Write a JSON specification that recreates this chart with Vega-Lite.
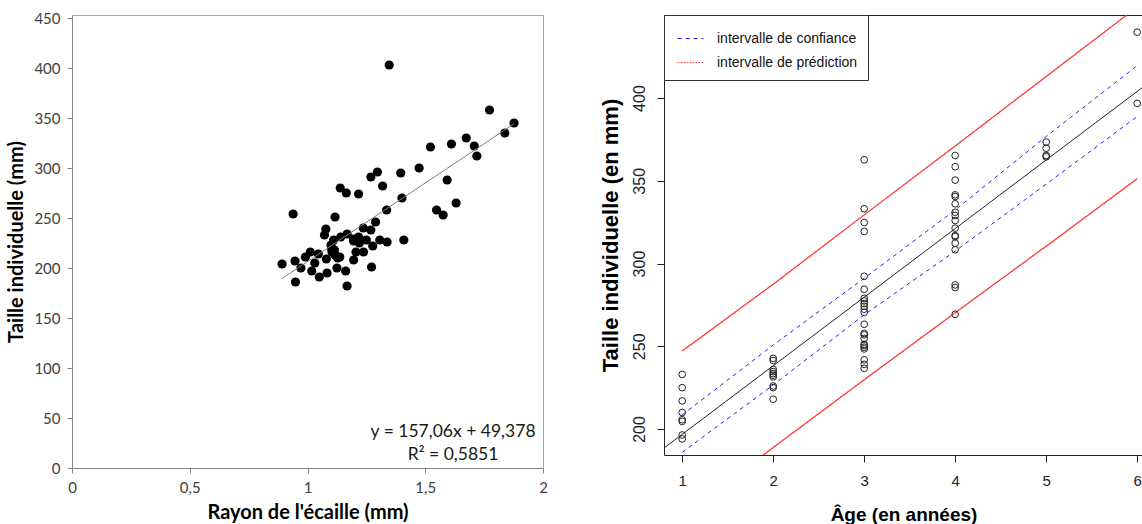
{
  "$schema": "https://vega.github.io/schema/vega-lite/v6.json",
  "background": "white",
  "padding": {"left": 6, "top": 10, "right": 0, "bottom": 0},
  "bounds": "flush",
  "spacing": 121,
  "resolve": {
    "scale": {"color": "independent", "strokeDash": "independent"},
    "legend": {"color": "independent", "strokeDash": "independent"}
  },
  "config": {"axis": {"labelFlush": false, "grid": false}},
  "datasets": {
    "left_pts": [
      {"rayon": 1.347, "taille": 403}, {"rayon": 1.773, "taille": 358}, {"rayon": 1.877, "taille": 345},
      {"rayon": 1.838, "taille": 335}, {"rayon": 1.674, "taille": 330}, {"rayon": 1.611, "taille": 324},
      {"rayon": 1.522, "taille": 321}, {"rayon": 1.708, "taille": 322}, {"rayon": 1.719, "taille": 312},
      {"rayon": 1.474, "taille": 300}, {"rayon": 1.297, "taille": 296}, {"rayon": 1.396, "taille": 295},
      {"rayon": 1.269, "taille": 291}, {"rayon": 1.593, "taille": 288}, {"rayon": 1.319, "taille": 282},
      {"rayon": 1.139, "taille": 280}, {"rayon": 1.165, "taille": 275}, {"rayon": 1.217, "taille": 274},
      {"rayon": 1.401, "taille": 270}, {"rayon": 1.631, "taille": 265}, {"rayon": 1.548, "taille": 258},
      {"rayon": 1.336, "taille": 258}, {"rayon": 1.576, "taille": 253}, {"rayon": 0.939, "taille": 254},
      {"rayon": 1.117, "taille": 251}, {"rayon": 1.289, "taille": 246}, {"rayon": 1.078, "taille": 239},
      {"rayon": 1.237, "taille": 240}, {"rayon": 1.269, "taille": 238}, {"rayon": 1.072, "taille": 233},
      {"rayon": 1.168, "taille": 234}, {"rayon": 1.141, "taille": 231}, {"rayon": 1.195, "taille": 229},
      {"rayon": 1.217, "taille": 231}, {"rayon": 1.25, "taille": 228}, {"rayon": 1.307, "taille": 228},
      {"rayon": 1.338, "taille": 226}, {"rayon": 1.409, "taille": 228}, {"rayon": 1.111, "taille": 228},
      {"rayon": 1.22, "taille": 225}, {"rayon": 1.1, "taille": 223}, {"rayon": 1.277, "taille": 222},
      {"rayon": 1.103, "taille": 219}, {"rayon": 1.238, "taille": 216}, {"rayon": 1.206, "taille": 216},
      {"rayon": 1.012, "taille": 216}, {"rayon": 1.104, "taille": 216}, {"rayon": 1.117, "taille": 213},
      {"rayon": 1.046, "taille": 214}, {"rayon": 1.137, "taille": 211}, {"rayon": 0.991, "taille": 211},
      {"rayon": 1.128, "taille": 210}, {"rayon": 1.08, "taille": 209}, {"rayon": 1.196, "taille": 208},
      {"rayon": 0.947, "taille": 207}, {"rayon": 1.031, "taille": 205}, {"rayon": 0.892, "taille": 204},
      {"rayon": 0.972, "taille": 200}, {"rayon": 1.272, "taille": 201}, {"rayon": 1.125, "taille": 200},
      {"rayon": 1.018, "taille": 197}, {"rayon": 1.162, "taille": 197}, {"rayon": 1.083, "taille": 195},
      {"rayon": 1.05, "taille": 191}, {"rayon": 0.949, "taille": 186}, {"rayon": 1.168, "taille": 182},
      {"rayon": 1.114, "taille": 218}, {"rayon": 1.196, "taille": 227}
    ],
    "left_trend": [
      {"rayon": 0.892, "taille": 189.5}, {"rayon": 1.877, "taille": 344.2}
    ],
    "left_eq": [
      {"eq": "y = 157,06x + 49,378"}
    ],
    "left_r2": [
      {"eq": "R² = 0,5851"}
    ],
    "right_pts": [
      {"age": 1, "taille": 233}, {"age": 1, "taille": 225}, {"age": 1, "taille": 217}, {"age": 1, "taille": 210},
      {"age": 1, "taille": 205.6}, {"age": 1, "taille": 204.6}, {"age": 1, "taille": 196.4}, {"age": 1, "taille": 194},
      {"age": 2, "taille": 242.7}, {"age": 2, "taille": 241.4}, {"age": 2, "taille": 236}, {"age": 2, "taille": 234.7},
      {"age": 2, "taille": 233.5}, {"age": 2, "taille": 232.5}, {"age": 2, "taille": 231.5}, {"age": 2, "taille": 226},
      {"age": 2, "taille": 225}, {"age": 2, "taille": 218},
      {"age": 3, "taille": 362.7}, {"age": 3, "taille": 333.1}, {"age": 3, "taille": 324.8}, {"age": 3, "taille": 319.4},
      {"age": 3, "taille": 292.3}, {"age": 3, "taille": 284.5}, {"age": 3, "taille": 279}, {"age": 3, "taille": 277.4},
      {"age": 3, "taille": 275.8}, {"age": 3, "taille": 274.2}, {"age": 3, "taille": 272.4}, {"age": 3, "taille": 270.5},
      {"age": 3, "taille": 263.3}, {"age": 3, "taille": 257.8}, {"age": 3, "taille": 256.9}, {"age": 3, "taille": 254.8},
      {"age": 3, "taille": 251.2}, {"age": 3, "taille": 250.4}, {"age": 3, "taille": 249.4}, {"age": 3, "taille": 248.4},
      {"age": 3, "taille": 241.8}, {"age": 3, "taille": 239.1}, {"age": 3, "taille": 236.7},
      {"age": 4, "taille": 365.3}, {"age": 4, "taille": 358.5}, {"age": 4, "taille": 350.4}, {"age": 4, "taille": 341.5},
      {"age": 4, "taille": 340.5}, {"age": 4, "taille": 336.1}, {"age": 4, "taille": 331}, {"age": 4, "taille": 329},
      {"age": 4, "taille": 326}, {"age": 4, "taille": 321.4}, {"age": 4, "taille": 316.9}, {"age": 4, "taille": 316.3},
      {"age": 4, "taille": 312.3}, {"age": 4, "taille": 308.3}, {"age": 4, "taille": 287.1}, {"age": 4, "taille": 285.5},
      {"age": 4, "taille": 269.3},
      {"age": 5, "taille": 373.4}, {"age": 5, "taille": 369.7}, {"age": 5, "taille": 365.3}, {"age": 5, "taille": 364.5},
      {"age": 6, "taille": 439.8}, {"age": 6, "taille": 396.8}
    ],
    "right_fit": [
      {"age": 0.8, "taille": 188.5}, {"age": 6.2, "taille": 412.3}
    ],
    "right_bands": [
      {"age": 1, "taille": 208.5, "interval": "intervalle de confiance", "bound": "cu"},
      {"age": 2, "taille": 250.8, "interval": "intervalle de confiance", "bound": "cu"},
      {"age": 3, "taille": 291.1, "interval": "intervalle de confiance", "bound": "cu"},
      {"age": 4, "taille": 332.4, "interval": "intervalle de confiance", "bound": "cu"},
      {"age": 5, "taille": 376.8, "interval": "intervalle de confiance", "bound": "cu"},
      {"age": 6, "taille": 419.6, "interval": "intervalle de confiance", "bound": "cu"},
      {"age": 1, "taille": 185.9, "interval": "intervalle de confiance", "bound": "cl"},
      {"age": 2, "taille": 226.6, "interval": "intervalle de confiance", "bound": "cl"},
      {"age": 3, "taille": 269.0, "interval": "intervalle de confiance", "bound": "cl"},
      {"age": 4, "taille": 307.5, "interval": "intervalle de confiance", "bound": "cl"},
      {"age": 5, "taille": 348.0, "interval": "intervalle de confiance", "bound": "cl"},
      {"age": 6, "taille": 388.9, "interval": "intervalle de confiance", "bound": "cl"},
      {"age": 1, "taille": 247.2, "interval": "intervalle de prédiction", "bound": "pu"},
      {"age": 2, "taille": 287.5, "interval": "intervalle de prédiction", "bound": "pu"},
      {"age": 3, "taille": 329.4, "interval": "intervalle de prédiction", "bound": "pu"},
      {"age": 4, "taille": 371.0, "interval": "intervalle de prédiction", "bound": "pu"},
      {"age": 5, "taille": 413.0, "interval": "intervalle de prédiction", "bound": "pu"},
      {"age": 6, "taille": 455.0, "interval": "intervalle de prédiction", "bound": "pu"},
      {"age": 1, "taille": 147.0, "interval": "intervalle de prédiction", "bound": "pl"},
      {"age": 2, "taille": 188.8, "interval": "intervalle de prédiction", "bound": "pl"},
      {"age": 3, "taille": 229.8, "interval": "intervalle de prédiction", "bound": "pl"},
      {"age": 4, "taille": 270.3, "interval": "intervalle de prédiction", "bound": "pl"},
      {"age": 5, "taille": 310.5, "interval": "intervalle de prédiction", "bound": "pl"},
      {"age": 6, "taille": 351.2, "interval": "intervalle de prédiction", "bound": "pl"}
    ]
  },
  "hconcat": [
    {
      "width": 471,
      "height": 453,
      "view": {"stroke": "#a6a6a6", "strokeWidth": 1},
      "layer": [
        {
          "data": {"name": "left_pts"},
          "mark": {"type": "point", "shape": "circle", "filled": true, "size": 85, "color": "black", "opacity": 1},
          "encoding": {
            "x": {
              "field": "rayon", "type": "quantitative",
              "scale": {"domain": [0, 2], "nice": false, "zero": false},
              "axis": {
                "values": [0, 0.5, 1, 1.5, 2],
                "labelExpr": "replace(format(datum.value, '~g'), '.', ',')",
                "title": "Rayon de l'écaille (mm)",
                "domainColor": "#868686", "tickColor": "#868686", "tickSize": 5,
                "labelFont": "Lato", "labelFontSize": 15, "labelColor": "#404040", "labelPadding": 7,
                "titleFont": "Lato", "titleFontSize": 20, "titleFontWeight": "bold", "titleColor": "black", "titlePadding": 7
              }
            },
            "y": {
              "field": "taille", "type": "quantitative",
              "scale": {"domain": [0, 453], "nice": false, "zero": false},
              "axis": {
                "values": [0, 50, 100, 150, 200, 250, 300, 350, 400, 450],
                "title": "Taille individuelle (mm)",
                "domainColor": "#868686", "tickColor": "#868686", "tickSize": 5,
                "labelFont": "Lato", "labelFontSize": 15, "labelColor": "#404040", "labelPadding": 7,
                "titleFont": "Lato", "titleFontSize": 20, "titleFontWeight": "bold", "titleColor": "black", "titlePadding": 7
              }
            }
          }
        },
        {
          "data": {"name": "left_trend"},
          "mark": {"type": "line", "color": "#7f7f7f", "strokeWidth": 1},
          "encoding": {
            "x": {"field": "rayon", "type": "quantitative"},
            "y": {"field": "taille", "type": "quantitative"}
          }
        },
        {
          "data": {"name": "left_eq"},
          "mark": {"type": "text", "align": "center", "baseline": "middle", "font": "Lato", "fontSize": 17.5, "color": "#1a1a1a"},
          "encoding": {
            "x": {"datum": 1.618},
            "y": {"datum": 36},
            "text": {"field": "eq", "type": "nominal"}
          }
        },
        {
          "data": {"name": "left_r2"},
          "mark": {"type": "text", "align": "center", "baseline": "middle", "font": "Lato", "fontSize": 17.5, "color": "#1a1a1a"},
          "encoding": {
            "x": {"datum": 1.618},
            "y": {"datum": 13},
            "text": {"field": "eq", "type": "nominal"}
          }
        }
      ]
    },
    {
      "width": 479,
      "height": 440,
      "view": {"stroke": "#222222", "strokeWidth": 1},
      "encoding": {
        "x": {
          "field": "age", "type": "quantitative",
          "scale": {"domain": [0.8, 6.064], "nice": false, "zero": false},
          "axis": {
            "values": [1, 2, 3, 4, 5, 6],
            "title": "Âge (en années)",
            "domain": false, "tickColor": "#222222", "tickSize": 7,
            "labelFont": "Liberation Sans", "labelFontSize": 15, "labelColor": "#222222", "labelPadding": 11,
            "titleFont": "Liberation Sans", "titleFontSize": 19, "titleFontWeight": "bold", "titleColor": "black", "titlePadding": 17
          }
        },
        "y": {
          "field": "taille", "type": "quantitative",
          "scale": {"domain": [184.3, 450.2], "nice": false, "zero": false},
          "axis": {
            "values": [200, 250, 300, 350, 400],
            "title": "Taille individuelle (en mm)",
            "domain": false, "tickColor": "#222222", "tickSize": 7,
            "labelAngle": -90, "labelAlign": "center", "labelBaseline": "bottom",
            "labelFont": "Liberation Sans", "labelFontSize": 16, "labelColor": "#222222", "labelPadding": 10,
            "titleFont": "Liberation Sans", "titleFontSize": 22, "titleFontWeight": "bold", "titleColor": "black", "titlePadding": 9
          }
        }
      },
      "layer": [
        {
          "data": {"name": "right_fit"},
          "mark": {"type": "line", "color": "#222222", "strokeWidth": 1, "clip": true}
        },
        {
          "data": {"name": "right_bands"},
          "transform": [{"filter": "datum.bound == 'pu' || datum.bound == 'pl'"}],
          "mark": {"type": "line", "color": "#ff2020", "strokeWidth": 1.2, "opacity": 0.9, "clip": true},
          "encoding": {"detail": {"field": "bound", "type": "nominal"}}
        },
        {
          "data": {"name": "right_bands"},
          "mark": {"type": "line", "strokeWidth": 1, "clip": true},
          "encoding": {
            "detail": {"field": "bound", "type": "nominal"},
            "color": {
              "field": "interval", "type": "nominal",
              "scale": {"domain": ["intervalle de confiance", "intervalle de prédiction"], "range": ["#2020ff", "#ff4040"]},
              "legend": {
                "title": null, "orient": "top-left", "offset": 0, "padding": 10,
                "strokeColor": "#333333", "fillColor": "white", "cornerRadius": 0,
                "symbolType": "stroke", "symbolSize": 676, "symbolStrokeWidth": 1, "symbolOffset": 3,
                "labelFont": "Liberation Sans", "labelFontSize": 14, "labelColor": "#111111",
                "labelOffset": 13, "rowPadding": 3
              }
            },
            "strokeDash": {
              "field": "interval", "type": "nominal",
              "scale": {"domain": ["intervalle de confiance", "intervalle de prédiction"], "range": [[4, 4], [1.5, 1.5]]},
              "legend": {
                "title": null, "orient": "top-left", "offset": 0, "padding": 10,
                "strokeColor": "#333333", "fillColor": "white", "cornerRadius": 0,
                "symbolType": "stroke", "symbolSize": 676, "symbolStrokeWidth": 1, "symbolOffset": 3,
                "labelFont": "Liberation Sans", "labelFontSize": 14, "labelColor": "#111111",
                "labelOffset": 13, "rowPadding": 3
              }
            }
          }
        },
        {
          "data": {"name": "right_pts"},
          "mark": {"type": "point", "shape": "circle", "filled": false, "size": 45, "stroke": "#222222", "strokeWidth": 1, "opacity": 1}
        }
      ]
    }
  ]
}
